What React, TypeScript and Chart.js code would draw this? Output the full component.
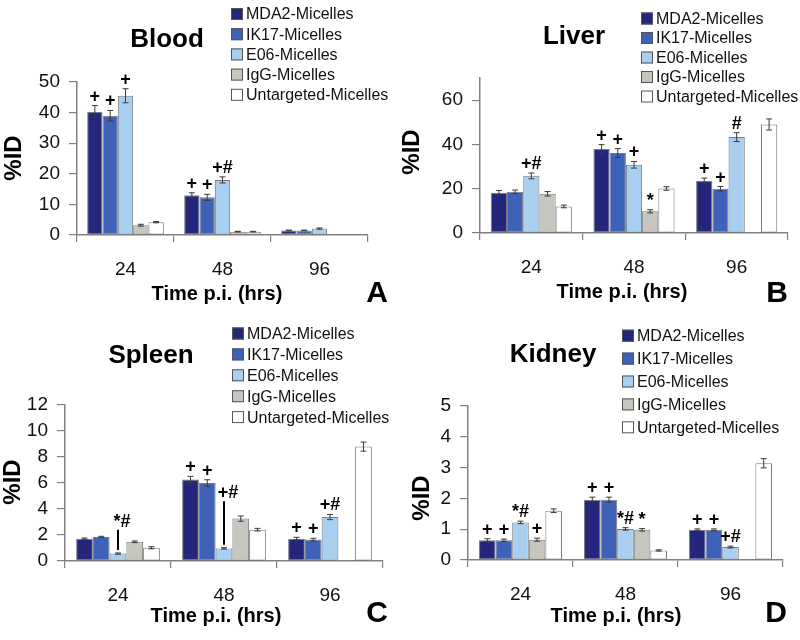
import React, { useEffect, useRef } from "react";
import { Chart, registerables } from "chart.js";

Chart.register(...registerables);

const FONT = "'Liberation Sans', Arial, Helvetica, sans-serif";

// ---------- data ----------
const categories = ["24", "48", "96"];
const seriesNames = ["MDA2-Micelles", "IK17-Micelles", "E06-Micelles", "IgG-Micelles", "Untargeted-Micelles"];
const seriesColors = ["#23267a", "#3d62b8", "#a8cff0", "#c6c6be", "#ffffff"];

// rows = series (MDA2, IK17, E06, IgG, Untargeted), columns = 24, 48, 96 h
const bloodMean = [
  [40.3, 13.0, 1.5],
  [39.0, 12.3, 1.5],
  [45.5, 18.0, 2.1],
  [3.2, 1.1, null],
  [4.2, 1.1, null],
];
const bloodErr = [
  [2.0, 0.8, 0.1],
  [1.7, 1.0, 0.1],
  [2.3, 1.0, 0.2],
  [0.3, 0.1, null],
  [0.2, 0.1, null],
];
const bloodMarks = [
  ["+", "+", ""],
  ["+", "+", ""],
  ["+", "+#", ""],
  ["", "", ""],
  ["", "", ""],
];

const liverMean = [
  [18.2, 37.9, 23.6],
  [18.6, 36.1, 20.0],
  [25.8, 30.8, 43.3],
  [17.7, 9.8, null],
  [12.0, 20.1, 49.0],
];
const liverErr = [
  [1.0, 2.0, 1.2],
  [0.8, 2.0, 1.0],
  [1.3, 1.5, 2.0],
  [1.0, 0.7, null],
  [0.6, 0.8, 2.5],
];
const liverMarks = [
  ["", "+", "+"],
  ["", "+", "+"],
  ["+#", "+", "#"],
  ["", "*", ""],
  ["", "", ""],
];

const spleenMean = [
  [1.72, 6.26, 1.72],
  [1.85, 6.0, 1.65],
  [0.57, 0.97, 3.38],
  [1.48, 3.26, null],
  [1.02, 2.41, 8.8],
];
const spleenErr = [
  [0.05, 0.25, 0.1],
  [0.05, 0.25, 0.1],
  [0.05, 0.05, 0.2],
  [0.06, 0.2, null],
  [0.08, 0.1, 0.35],
];
const spleenMarks = [
  ["", "+", "+"],
  ["", "+", "+"],
  ["*#", "+#", "+#"],
  ["", "", ""],
  ["", "", ""],
];
const spleenLeader = [
  [null, null, null],
  [null, null, null],
  [2.4, 4.6, null],
  [null, null, null],
  [null, null, null],
];

const kidneyMean = [
  [0.64, 1.96, 0.98],
  [0.64, 1.96, 0.98],
  [1.22, 1.01, 0.42],
  [0.66, 0.98, null],
  [1.6, 0.31, 3.14],
];
const kidneyErr = [
  [0.05, 0.08, 0.03],
  [0.04, 0.08, 0.03],
  [0.04, 0.04, 0.03],
  [0.05, 0.04, null],
  [0.06, 0.02, 0.15],
];
const kidneyMarks = [
  ["+", "+", "+"],
  ["+", "+", "+"],
  ["*#", "*#", "+#"],
  ["+", "*", ""],
  ["", "", ""],
];

// ---------- layout ----------
type Panel = {
  title: string;
  letter: string;
  mean: (number | null)[][];
  err: (number | null)[][];
  marks: string[][];
  leader?: (number | null)[][];
  yMax: number;
  yStep: number;
  left: number;
  top: number;
  area: { l: number; t: number; r: number; b: number };
  titlePos: [number, number];
  legend: { x: number; y0: number; dy: number };
  yTitle: [number, number];
  xTitle: [number, number];
  letterPos: [number, number];
};

const panels: Panel[] = [
  {
    title: "Blood", letter: "A", mean: bloodMean, err: bloodErr, marks: bloodMarks,
    yMax: 50, yStep: 10, left: 0, top: 0,
    area: { l: 77, t: 82, r: 368, b: 235 },
    titlePos: [167, 47], legend: { x: 231, y0: 14, dy: 20.2 },
    yTitle: [14, 158], xTitle: [217, 300], letterPos: [388, 302],
  },
  {
    title: "Liver", letter: "B", mean: liverMean, err: liverErr, marks: liverMarks,
    yMax: 70, yStep: 20, left: 400, top: 0,
    area: { l: 80, t: 78, r: 388, b: 233 },
    titlePos: [174, 44], legend: { x: 241, y0: 18.5, dy: 19.5 },
    yTitle: [12, 152], xTitle: [222, 298], letterPos: [388, 302],
  },
  {
    title: "Spleen", letter: "C", mean: spleenMean, err: spleenErr, marks: spleenMarks, leader: spleenLeader,
    yMax: 12, yStep: 2, left: 0, top: 320,
    area: { l: 65, t: 85, r: 383, b: 241 },
    titlePos: [151, 43], legend: { x: 232, y0: 13.5, dy: 20.9 },
    yTitle: [13, 162], xTitle: [216, 302], letterPos: [388, 302],
  },
  {
    title: "Kidney", letter: "D", mean: kidneyMean, err: kidneyErr, marks: kidneyMarks,
    yMax: 5, yStep: 1, left: 400, top: 320,
    area: { l: 68, t: 86, r: 383, b: 240 },
    titlePos: [153, 42], legend: { x: 222, y0: 15.7, dy: 22.9 },
    yTitle: [22, 178], xTitle: [216, 302], letterPos: [387, 302],
  },
];

const W = 400;
const H = 320;

function overlayPlugin(p: Panel) {
  return {
    id: "overlay",
    afterDatasetsDraw(chart: any) {
      const ctx = chart.ctx as CanvasRenderingContext2D;
      const ys = chart.scales.y;
      ctx.save();
      chart.data.datasets.forEach((_ds: any, i: number) => {
        const meta = chart.getDatasetMeta(i);
        meta.data.forEach((bar: any, j: number) => {
          const v = p.mean[i][j];
          if (v == null) return;
          const e = p.err[i][j] || 0;
          const x = bar.x;
          if (e > 0) {
            const yt = ys.getPixelForValue(v + e);
            const yb = ys.getPixelForValue(v - e);
            ctx.strokeStyle = "#3a3a3a";
            ctx.lineWidth = 1;
            ctx.beginPath();
            ctx.moveTo(x, yt);
            ctx.lineTo(x, yb);
            ctx.moveTo(x - 3, yt);
            ctx.lineTo(x + 3, yt);
            ctx.moveTo(x - 3, yb);
            ctx.lineTo(x + 3, yb);
            ctx.stroke();
          }
          const m = p.marks[i][j];
          if (m) {
            ctx.font = `bold 18px ${FONT}`;
            ctx.textAlign = "center";
            ctx.textBaseline = "alphabetic";
            ctx.fillStyle = "#000";
            const lead = p.leader ? p.leader[i][j] : null;
            const topPix = ys.getPixelForValue(v + e);
            if (lead != null) {
              const ly = ys.getPixelForValue(lead);
              ctx.strokeStyle = "#000";
              ctx.lineWidth = 2;
              ctx.beginPath();
              ctx.moveTo(x, ly);
              ctx.lineTo(x, topPix - 3);
              ctx.stroke();
              ctx.fillText(m, x + 4, ly - 3);
            } else {
              ctx.fillText(m, x, topPix - 4);
            }
          }
        });
      });
      ctx.restore();
    },
    afterDraw(chart: any) {
      const ctx = chart.ctx as CanvasRenderingContext2D;
      ctx.save();
      ctx.fillStyle = "#000";
      // title
      ctx.font = `bold 26px ${FONT}`;
      ctx.textAlign = "center";
      ctx.textBaseline = "alphabetic";
      ctx.fillText(p.title, p.titlePos[0], p.titlePos[1]);
      // legend
      ctx.font = `16px ${FONT}`;
      ctx.textAlign = "left";
      ctx.textBaseline = "middle";
      seriesNames.forEach((name, i) => {
        const cy = p.legend.y0 + i * p.legend.dy;
        ctx.fillStyle = seriesColors[i];
        ctx.fillRect(p.legend.x, cy - 6, 12, 12);
        ctx.strokeStyle = "#555";
        ctx.lineWidth = 1;
        ctx.strokeRect(p.legend.x + 0.5, cy - 5.5, 11, 11);
        ctx.fillStyle = "#111";
        ctx.fillText(name, p.legend.x + 15, cy + 1);
      });
      // y title
      ctx.save();
      ctx.translate(p.yTitle[0], p.yTitle[1]);
      ctx.rotate(-Math.PI / 2);
      ctx.font = `bold 24px ${FONT}`;
      ctx.textAlign = "center";
      ctx.textBaseline = "middle";
      ctx.fillStyle = "#000";
      ctx.fillText("%ID", 0, 0);
      ctx.restore();
      // x title
      ctx.font = `bold 20px ${FONT}`;
      ctx.textAlign = "center";
      ctx.textBaseline = "alphabetic";
      ctx.fillStyle = "#000";
      ctx.fillText("Time p.i. (hrs)", p.xTitle[0], p.xTitle[1]);
      // panel letter
      ctx.font = `bold 30px ${FONT}`;
      ctx.textAlign = "right";
      ctx.fillText(p.letter, p.letterPos[0], p.letterPos[1]);
      ctx.restore();
    },
  };
}

function PanelChart({ p }: { p: Panel }) {
  const ref = useRef<HTMLCanvasElement | null>(null);
  useEffect(() => {
    if (!ref.current) return;
    const a = p.area;
    const chart = new Chart(ref.current, {
      type: "bar",
      data: {
        labels: categories,
        datasets: seriesNames.map((name, i) => ({
          label: name,
          data: p.mean[i],
          backgroundColor: seriesColors[i],
          borderColor: "#7a7a7a",
          borderWidth: 1,
          borderSkipped: false,
          categoryPercentage: 0.79,
          barPercentage: 1.0,
        })),
      },
      options: {
        responsive: false,
        animation: false,
        devicePixelRatio: 1,
        layout: { padding: { left: 0, top: a.t, right: W - a.r, bottom: 0 } },
        plugins: { legend: { display: false }, title: { display: false }, tooltip: { enabled: false } },
        scales: {
          x: {
            type: "category",
            grid: { display: true, drawOnChartArea: false, drawTicks: true, tickLength: 7, color: "#808080", offset: true, lineWidth: 1.2 },
            border: { display: true, color: "#808080", width: 1.5 },
            ticks: { font: { size: 19, family: FONT }, color: "#111", padding: 16, maxRotation: 0 },
            afterFit: (s: any) => { s.height = H - a.b; },
          },
          y: {
            min: 0,
            max: p.yMax,
            grid: { display: true, drawOnChartArea: false, drawTicks: true, tickLength: 8, color: "#808080", lineWidth: 1.2 },
            border: { display: true, color: "#808080", width: 1.5 },
            ticks: { stepSize: p.yStep, includeBounds: false, font: { size: 19, family: FONT }, color: "#111", padding: 9 },
            afterFit: (s: any) => { s.width = a.l; },
          },
        },
      },
      plugins: [overlayPlugin(p)],
    } as any);
    return () => chart.destroy();
  }, [p]);
  return (
    <canvas
      ref={ref}
      width={W}
      height={H}
      style={{ position: "absolute", left: p.left, top: p.top, width: W, height: H, display: "block" }}
    />
  );
}

export default function App() {
  return (
    <div style={{ position: "fixed", left: 0, top: 0, width: 800, height: 640, background: "#fff" }}>
      {panels.map((p) => (
        <PanelChart key={p.letter} p={p} />
      ))}
    </div>
  );
}
